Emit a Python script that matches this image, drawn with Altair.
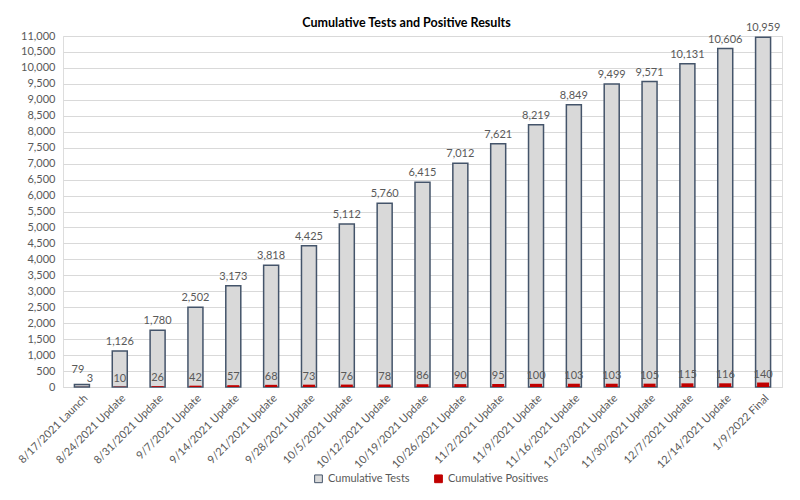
import altair as alt
import pandas as pd

categories = ["8/17/2021 Launch", "8/24/2021 Update", "8/31/2021 Update", "9/7/2021 Update",
              "9/14/2021 Update", "9/21/2021 Update", "9/28/2021 Update", "10/5/2021 Update",
              "10/12/2021 Update", "10/19/2021 Update", "10/26/2021 Update", "11/2/2021 Update",
              "11/9/2021 Update", "11/16/2021 Update", "11/23/2021 Update", "11/30/2021 Update",
              "12/7/2021 Update", "12/14/2021 Update", "1/9/2022 Final"]
tests = [79, 1126, 1780, 2502, 3173, 3818, 4425, 5112, 5760, 6415, 7012, 7621, 8219, 8849,
         9499, 9571, 10131, 10606, 10959]
positives = [3, 10, 26, 42, 57, 68, 73, 76, 78, 86, 90, 95, 100, 103, 103, 105, 115, 116, 140]
series_names = ["Cumulative Tests", "Cumulative Positives"]
y_ticks = list(range(0, 11001, 500))

rows = []
for i, c in enumerate(categories):
    rows.append({"cat": c, "series": series_names[0], "value": tests[i], "idx": i})
for i, c in enumerate(categories):
    rows.append({"cat": c, "series": series_names[1], "value": positives[i], "idx": i})
df = pd.DataFrame(rows)

FONT = "Lato"
TXT = "#595959"

x = alt.X("cat:N", sort=categories, title=None,
          scale=alt.Scale(paddingInner=0, paddingOuter=0),
          axis=alt.Axis(labelAngle=-45, labelFontSize=11, labelColor=TXT, labelFont=FONT,
                        domainColor="#d9d9d9", ticks=False, labelPadding=5, grid=False))
y = alt.Y("value:Q", title=None,
          scale=alt.Scale(domain=[0, 11000], nice=False),
          axis=alt.Axis(values=y_ticks, format=",.0f", labelFontSize=11, labelColor=TXT,
                        labelFont=FONT, domain=False, ticks=False, gridColor="#d9d9d9",
                        labelPadding=8))
fill = alt.Fill("series:N", sort=series_names,
                scale=alt.Scale(domain=series_names, range=["#d9d9d9", "#c00000"]),
                legend=alt.Legend(title=None, orient="none", direction="horizontal",
                                  legendX=250, legendY=437, symbolType="square",
                                  symbolSize=60, labelFontSize=11, labelColor=TXT,
                                  labelFont=FONT, columnPadding=22, symbolStrokeWidth=1))
stroke = alt.Stroke("series:N", sort=series_names,
                    scale=alt.Scale(domain=series_names, range=["#44546a", "#c00000"]))

base = alt.Chart(df)

tests_bar = base.transform_filter(alt.datum.series == series_names[0]).mark_bar(
    size=15, strokeWidth=1.5).encode(x=x, y=y, fill=fill, stroke=stroke)
pos_bar = base.transform_filter(alt.datum.series == series_names[1]).mark_bar(
    size=12, strokeWidth=0).encode(x=x, y=y, fill=fill, stroke=stroke)

tests_lbl = base.transform_filter(
    (alt.datum.series == series_names[0]) & (alt.datum.idx > 0)).mark_text(
    dy=-4, baseline="bottom", fontSize=11, color=TXT, font=FONT).encode(
    x=x, y=y, text=alt.Text("value:Q", format=","))
tests_lbl0 = base.transform_filter(
    (alt.datum.series == series_names[0]) & (alt.datum.idx == 0)).mark_text(
    dy=-9, dx=-4, baseline="bottom", fontSize=11, color=TXT, font=FONT).encode(
    x=x, y=y, text=alt.Text("value:Q", format=","))
pos_lbl = base.transform_filter(
    (alt.datum.series == series_names[1]) & (alt.datum.idx > 0)).mark_text(
    dy=-3, baseline="bottom", fontSize=11, color=TXT, font=FONT).encode(
    x=x, y=y, text=alt.Text("value:Q", format=","))
pos_lbl0 = base.transform_filter(
    (alt.datum.series == series_names[1]) & (alt.datum.idx == 0)).mark_text(
    dy=-3, dx=8, baseline="bottom", fontSize=11, color=TXT, font=FONT).encode(
    x=x, y=y, text=alt.Text("value:Q", format=","))

chart = alt.layer(tests_bar, pos_bar, tests_lbl, tests_lbl0, pos_lbl, pos_lbl0).properties(
    width=719, height=351,
    title=alt.TitleParams("Cumulative Tests and Positive Results", fontSize=12.5,
                          fontWeight="bold", font=FONT, color="#000000", anchor="middle",
                          dx=-16, dy=11, offset=4),
    autosize=alt.AutoSizeParams(type="none"),
    padding={"left": 55, "top": 28, "right": 10, "bottom": 105},
).configure_view(stroke=None).configure(background="white")

chart.save("out.html", embed_options={"renderer": "svg", "actions": False})
